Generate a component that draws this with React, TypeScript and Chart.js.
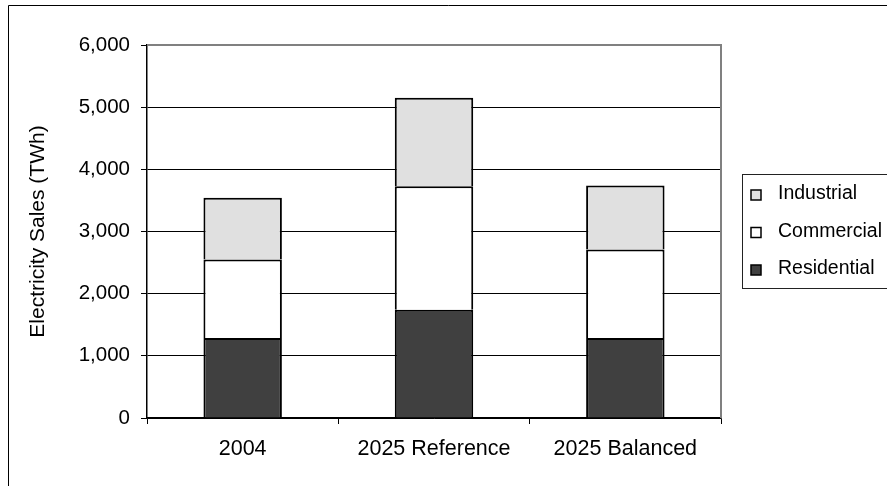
import React, { useEffect, useRef } from "react";
import { Chart, registerables } from "chart.js";

Chart.register(...registerables);

const categories = ["2004", "2025 Reference", "2025 Balanced"];
const residential = [1288, 1743, 1288];
const commercial = [1260, 1985, 1421];
const industrial = [993, 1422, 1030];
const yMin = 0;
const yMax = 6000;
const yStep = 1000;
const yTitle = "Electricity Sales (TWh)";

const FONT = '"Liberation Sans", Arial, sans-serif';

const framePlugin = {
  id: "frame",
  beforeDraw(chart: any) {
    const ctx = chart.ctx;
    ctx.save();
    ctx.fillStyle = "#ffffff";
    ctx.fillRect(0, 0, chart.width, chart.height);
    ctx.strokeStyle = "#000000";
    ctx.lineWidth = 1;
    ctx.beginPath();
    ctx.moveTo(8.5, chart.height + 2);
    ctx.lineTo(8.5, 5.5);
    ctx.lineTo(chart.width + 2, 5.5);
    ctx.stroke();
    ctx.restore();
  },
  afterDatasetsDraw(chart: any) {
    const { ctx, chartArea } = chart;
    ctx.save();
    ctx.strokeStyle = "#808080";
    ctx.lineWidth = 2;
    ctx.beginPath();
    ctx.moveTo(chartArea.left, chartArea.top);
    ctx.lineTo(chartArea.right, chartArea.top);
    ctx.lineTo(chartArea.right, chartArea.bottom);
    ctx.stroke();
    ctx.restore();
  },
  afterDraw(chart: any) {
    const ctx = chart.ctx;
    const ds = chart.data.datasets.slice().reverse();
    ctx.save();
    ctx.strokeStyle = "#222222";
    ctx.lineWidth = 1;
    ctx.strokeRect(742.5, 174.5, 200, 114);
    ctx.font = `19.5px ${FONT}`;
    ctx.textBaseline = "middle";
    ctx.textAlign = "left";
    ds.forEach((d: any, i: number) => {
      const cy = 194 + i * 37.5;
      ctx.fillStyle = d.backgroundColor;
      ctx.fillRect(751, cy - 4, 10, 10);
      ctx.strokeStyle = "#000000";
      ctx.lineWidth = 1.5;
      ctx.strokeRect(751, cy - 4, 10, 10);
      ctx.fillStyle = "#000000";
      ctx.fillText(d.label, 778, cy);
    });
    ctx.restore();
  },
};

export default function App() {
  const ref = useRef<HTMLCanvasElement | null>(null);

  useEffect(() => {
    if (!ref.current) return;
    const mk = (label: string, data: number[], color: string) => ({
      label,
      data,
      backgroundColor: color,
      borderColor: "#000000",
      borderWidth: 2,
      barPercentage: 0.41,
      categoryPercentage: 1,
    });
    const chart = new Chart(ref.current, {
      type: "bar",
      data: {
        labels: categories,
        datasets: [
          mk("Residential", residential, "#404040"),
          mk("Commercial", commercial, "#ffffff"),
          mk("Industrial", industrial, "#e0e0e0"),
        ],
      },
      options: {
        animation: false,
        responsive: false,
        maintainAspectRatio: false,
        devicePixelRatio: 1,
        layout: { padding: { left: 0, top: 45, right: 166, bottom: 0 } },
        plugins: {
          legend: { display: false },
          tooltip: { enabled: false },
        },
        scales: {
          x: {
            stacked: true,
            offset: true,
            grid: {
              offset: true,
              drawOnChartArea: false,
              drawTicks: true,
              tickLength: 6,
              color: "#000000",
              tickColor: "#000000",
            },
            border: { color: "#000000", width: 1.5 },
            ticks: {
              color: "#000000",
              font: { family: FONT, size: 21.5 },
              padding: 12,
              maxRotation: 0,
            },
            afterFit(scale: any) {
              scale.height = 68;
            },
          },
          y: {
            stacked: true,
            min: yMin,
            max: yMax,
            ticks: {
              stepSize: yStep,
              color: "#000000",
              font: { family: FONT, size: 20.5 },
              padding: 11,
              callback: (v: any) => Number(v).toLocaleString("en-US"),
            },
            grid: {
              color: "#000000",
              tickColor: "#000000",
              tickLength: 6,
              lineWidth: 1,
            },
            border: { color: "#000000", width: 1.5 },
            title: {
              display: true,
              text: yTitle,
              color: "#000000",
              font: { family: FONT, size: 21 },
              padding: { top: 26, bottom: 0 },
            },
            afterFit(scale: any) {
              scale.width = 147;
            },
          },
        },
      },
      plugins: [framePlugin],
    });
    return () => chart.destroy();
  }, []);

  return (
    <div style={{ position: "fixed", left: 0, top: 0, width: 887, height: 486 }}>
      <canvas ref={ref} width={887} height={486} style={{ width: 887, height: 486 }} />
    </div>
  );
}
